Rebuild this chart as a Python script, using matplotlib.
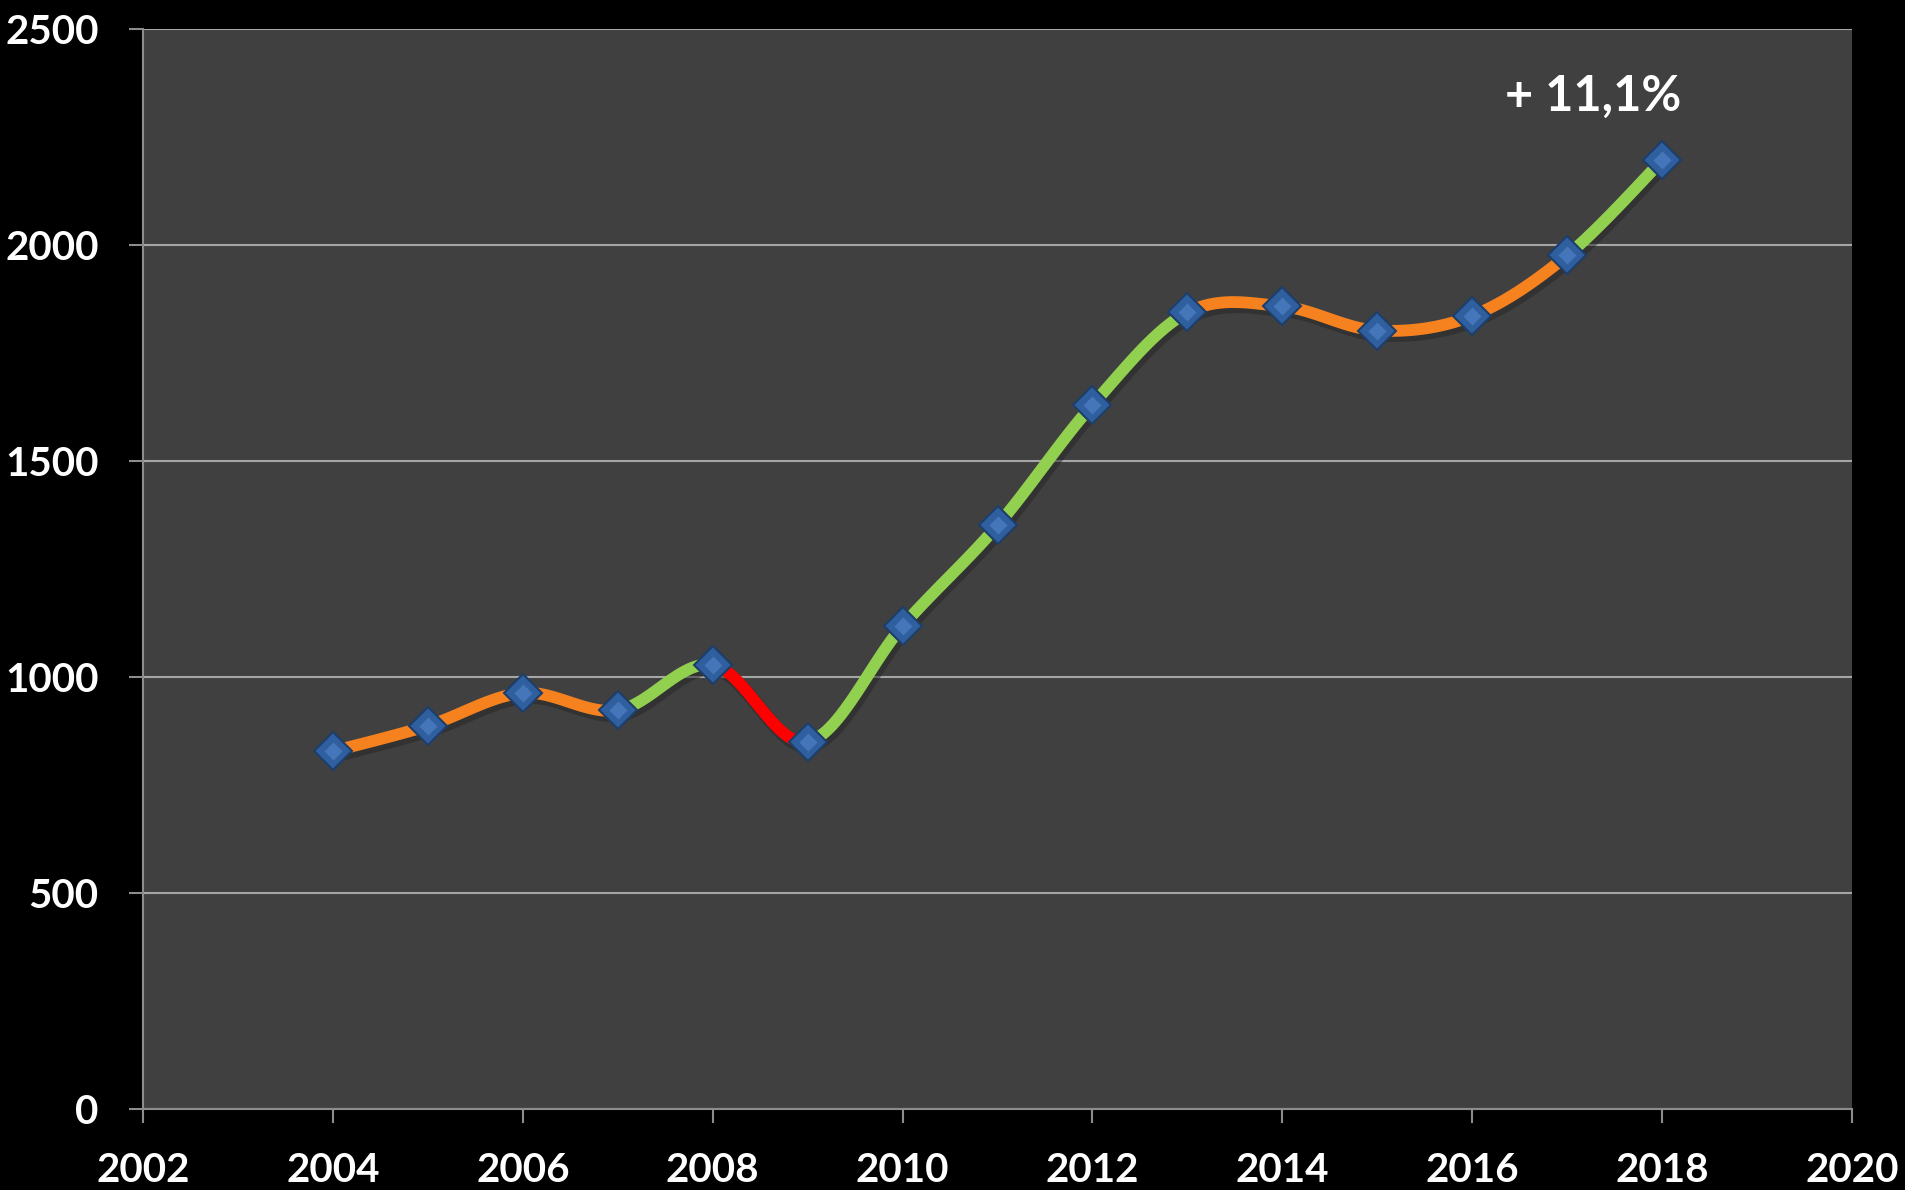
import numpy as np
import matplotlib.pyplot as plt
import matplotlib.transforms as mtransforms

# values
years = [2004, 2005, 2006, 2007, 2008, 2009, 2010, 2011, 2012, 2013, 2014, 2015, 2016, 2017, 2018]
values = [828, 887, 963, 923, 1028, 850, 1118, 1351, 1630, 1844, 1858, 1802, 1836, 1976, 2196]
# colour of each segment (from year i to year i+1)
seg_colors = ['#F5821F', '#F5821F', '#F5821F', '#92D050', '#FF0000', '#92D050', '#92D050',
              '#92D050', '#92D050', '#F5821F', '#F5821F', '#F5821F', '#F5821F', '#92D050']
xticks = list(range(2002, 2021, 2))
yticks = [0, 500, 1000, 1500, 2000, 2500]
note = '+ 11,1%'

plt.rcParams['font.family'] = ['Lato', 'DejaVu Sans']

fig = plt.figure(figsize=(19.05, 11.9), dpi=100, facecolor='black')
ax = fig.add_axes([0.0751, 0.0681, 0.8971, 0.9075])
ax.set_facecolor('#404040')

x = np.array(years, dtype=float)
y = np.array(values, dtype=float)
n = len(x)

shadow = ax.transData + mtransforms.ScaledTranslation(2/72, -3/72, fig.dpi_scale_trans)

# excel-style smoothed line: bezier with catmull-rom control points
t = np.linspace(0, 1, 40)
for i in range(n - 1):
    p0 = np.array([x[i], y[i]])
    p3 = np.array([x[i + 1], y[i + 1]])
    prev = np.array([x[i - 1], y[i - 1]]) if i > 0 else p0
    nxt = np.array([x[i + 2], y[i + 2]]) if i + 2 < n else p3
    p1 = p0 + (p3 - prev) / 6
    p2 = p3 - (nxt - p0) / 6
    pts = (np.outer((1 - t) ** 3, p0) + np.outer(3 * (1 - t) ** 2 * t, p1)
           + np.outer(3 * (1 - t) * t ** 2, p2) + np.outer(t ** 3, p3))
    ax.plot(pts[:, 0], pts[:, 1], color='#262626', lw=10, alpha=0.5, zorder=2,
            solid_capstyle='butt', transform=shadow)
    ax.plot(pts[:, 0], pts[:, 1], color=seg_colors[i], lw=8.5, zorder=3, solid_capstyle='butt')

ax.plot(x, y, linestyle='none', marker='D', markersize=19, markerfacecolor='#2F5F9F',
        markeredgecolor='#1E3E6A', markeredgewidth=1.5, zorder=4)
ax.plot(x, y, linestyle='none', marker='D', markersize=9, markerfacecolor='#4A7CC0',
        markeredgecolor='none', zorder=5, alpha=0.8)

ax.text(2017.27, 2345, note, color='white', fontsize=35, fontweight='bold',
        ha='center', va='center')

ax.set_xlim(2002, 2020)
ax.set_ylim(0, 2500)
ax.set_xticks(xticks)
ax.set_yticks(yticks)
ax.grid(axis='y', color='#A6A6A6', linewidth=1.5, zorder=1)
ax.set_axisbelow(True)
for s in ['top', 'right']:
    ax.spines[s].set_visible(False)
for s in ['left', 'bottom']:
    ax.spines[s].set_color('#8C8C8C')
    ax.spines[s].set_linewidth(1.5)
ax.tick_params(colors='#8C8C8C', length=10, width=1.5)
ax.tick_params(axis='y', pad=22)
ax.tick_params(axis='x', pad=21)
for lab in ax.get_xticklabels() + ax.get_yticklabels():
    lab.set_color('white')
    lab.set_fontsize(29)
    lab.set_fontweight('bold')

fig.savefig('out.png', dpi=100, facecolor='black')
